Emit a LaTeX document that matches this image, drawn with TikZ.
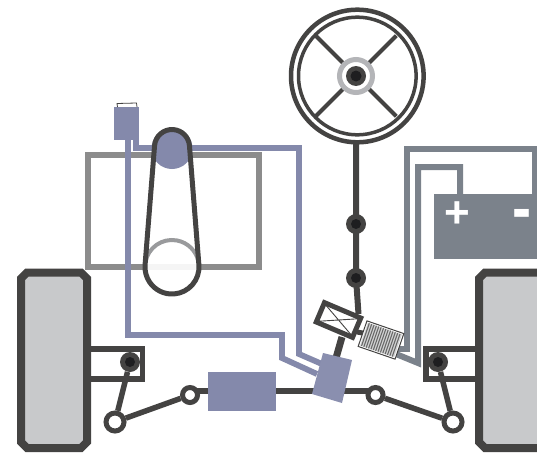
\documentclass[tikz,border=0pt]{standalone}
\usepackage{fontspec}
\setmainfont{Liberation Sans}
\definecolor{dk}{HTML}{444342}
\definecolor{blk}{HTML}{1E1E20}
\definecolor{tyre}{HTML}{C8C9CB}
\definecolor{eng}{HTML}{8C8C8C}
\definecolor{elec}{HTML}{7B828B}
\definecolor{blu}{HTML}{8489AB}
\definecolor{hub}{HTML}{B4B5B8}
\tikzset{
  wheelshape/.style={draw=dk,line width=8pt,fill=tyre,line join=miter},
  armline/.style={draw=dk,line width=5.5pt},
  rodline/.style={draw=dk,line width=5.5pt,line cap=butt},
  pivot/.style={circle,draw=dk,line width=5pt,fill=white,minimum size=18pt,inner sep=0pt},
  smallpivot/.style={pivot,minimum size=15pt},
  balljoint/.style={circle,fill=dk,minimum size=20pt,inner sep=0pt},
  ballcore/.style={circle,fill=blk,minimum size=10pt,inner sep=0pt},
  bluewire/.style={draw=blu,line width=5.8pt,line join=miter},
  greywire/.style={draw=elec,line width=6pt,line join=miter},
  signtext/.style={text=white,font=\bfseries\fontsize{44}{44}\selectfont,inner sep=0pt},
}
\begin{document}
\begin{tikzpicture}[x=1pt,y=-1pt]
\useasboundingbox (0,0) rectangle (537,452);
\fill[white] (0,0) rectangle (537,452);

% engine block
\draw[eng,line width=6.5pt] (88,155) rectangle (259,267);
% blue wires
\draw[bluewire] (136,140) -- (136,148) -- (299,148) -- (299,354) -- (322,364);
\draw[bluewire] (128,140) -- (128,335) -- (282,335) -- (282,358) -- (317,374);
\node[fill=blu,minimum width=25pt,minimum height=33pt,inner sep=0pt] (sensor) at (126.5,123.5) {};
\draw[dk,line width=.8pt] (117.5,107) -- (117,103.5) -- (136.5,103) -- (137,107);
% pulleys and belt
\fill[blu] (172,148.5) circle[radius=20.5pt];
\fill[white] (172,267) circle[radius=27pt];
\fill[white!96!black] (147,264) rectangle (197,270);
\draw[hub!85!black,line width=4pt] (172,267) ++(170:27pt) arc[start angle=170,end angle=10,radius=27pt];
\draw[dk,line width=5pt,line join=round]
  (154.55,145.7) arc[start angle=175.7,end angle=4.3,radius=17.5pt]
  -- (198.9,265) arc[start angle=4.3,end angle=-184.3,radius=27pt] -- cycle;

% grey wires & battery
\draw[greywire] (398,349) -- (407,349) -- (407,149) -- (534.5,149) -- (534.5,196);
\draw[greywire] (396,354) -- (418,363) -- (418,167) -- (460,167) -- (460,196);
\node[fill=elec,minimum width=103pt,minimum height=65pt,inner sep=0pt] (battery) at (485.5,226.5) {};
\node[signtext] (plus) at (457,215) {+};
\node[signtext,xscale=1.3,yscale=1.5] (minus) at (522,219.5) {-};

% steering wheel
\coordinate (hubc) at (356,76);
\coordinate (rimc) at (357.3,76);
\draw[dk,line width=4.5pt] (rimc) circle[radius=66.3pt];
\draw[dk,line width=3.5pt] (rimc) circle[radius=58.8pt];
\foreach \a in {45,135,225,315}
  \draw[dk,line width=4pt] (hubc) -- ++(\a:57pt);
\fill[white] (hubc) circle[radius=16pt];
\draw[hub,line width=5pt] (hubc) circle[radius=16.5pt];
\fill[dk] (hubc) circle[radius=10pt];
\fill[blk] (hubc) circle[radius=5.5pt];

% column
\coordinate (colA) at (356,141);
\coordinate (mtop) at (358.5,314);
\draw[dk,line width=6pt] (colA) -- (356,224) -- (356,278) -- (mtop);
\node[balljoint] (j1) at (356,224) {};
\node[ballcore] at (j1) {};
\node[balljoint] (j2) at (356,278) {};
\node[ballcore] at (j2) {};

% track rod
\coordinate (piL) at (190,395);
\coordinate (piR) at (375.5,395);
\draw[dk,line width=5.5pt] (190,391) -- (375,391);
\node[fill=blu,minimum width=68pt,minimum height=39pt,inner sep=0pt] (rack) at (242,391.5) {};

% motor-to-block and motor-to-sensor links
\draw[dk,line width=7pt] (342,337) -- (336,358);
\draw[dk,line width=5pt] (357,332) -- (368,334);

% power block
\fill[blu!95!white] (323,353) -- (352,360) -- (342,403) -- (312,394) -- cycle;

% motor
\begin{scope}[shift={(338.5,320)},rotate=-23]
  \draw[dk,line width=5pt,fill=white] (-19.7,-10.5) rectangle (19.7,10.5);
  \draw[dk,line width=.9pt] (-18,-9) -- (18,9) (-18,9) -- (18,-9);
\end{scope}

% striped sensor
\begin{scope}[shift={(381,340)},rotate=-19]
  \draw[dk,line width=1pt,fill=white] (-19.5,-13.5) rectangle (19.5,13.5);
  \fill[hub!60!white] (-18,-12) rectangle (18,12);
  \foreach \s in {-16.5,-14,...,17}
    \draw[dk!80!white,line width=1.1pt] (\s,-12) -- (\s,12);
\end{scope}

% left wheel and suspension
\draw[armline] (91,349) -- (142.5,349) -- (142.5,379) -- (91,379);
\draw[wheelshape] (27,272.5) -- (81,272.5) -- (87,278.5) -- (87,442) -- (81,448) -- (27,448) -- (21,442) -- (21,278.5) -- cycle;
\node[balljoint] (kL) at (130,362) {};
\node[pivot] (tL) at (115,422) {};
\node[smallpivot] (rL) at (piL) {};
\draw[rodline] (kL) -- (tL);
\draw[rodline] (tL) -- (rL);
\node[ballcore] at (kL) {};

% right wheel and suspension
\draw[armline] (476,349) -- (426,349) -- (426,379) -- (476,379);
\draw[wheelshape] (540,272.5) -- (485,272.5) -- (479,278.5) -- (479,442) -- (485,448) -- (540,448);
\node[balljoint] (kR) at (438,362) {};
\node[pivot] (tR) at (453,422) {};
\node[smallpivot] (rR) at (piR) {};
\draw[rodline] (kR) -- (tR);
\draw[rodline] (tR) -- (rR);
\node[ballcore] at (kR) {};
\end{tikzpicture}
\end{document}
